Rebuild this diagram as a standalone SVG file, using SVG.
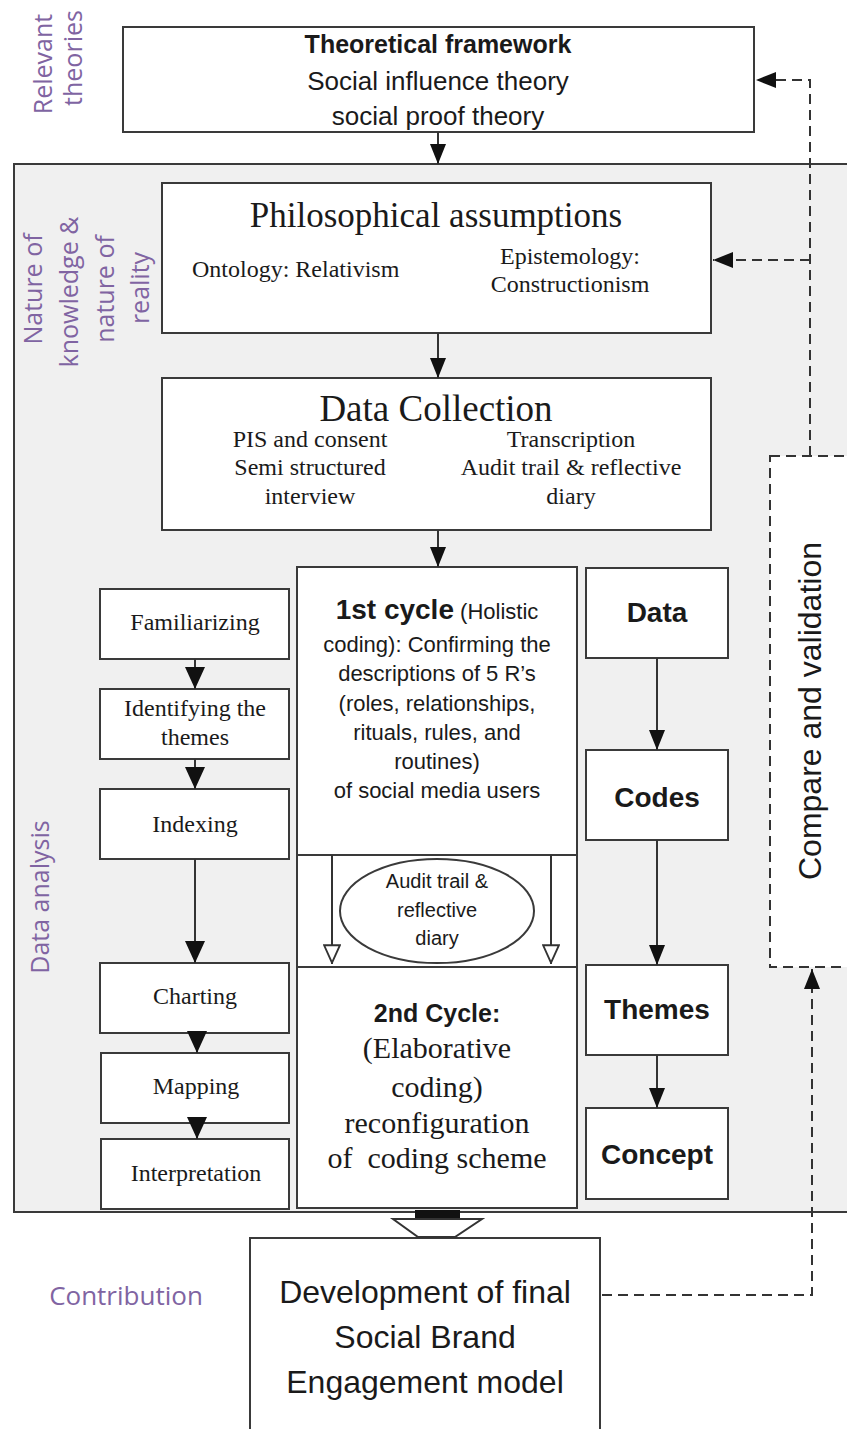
<svg xmlns="http://www.w3.org/2000/svg" width="847" height="1429" viewBox="0 0 847 1429">
<style>
.bg{fill:#fff}
.panel{fill:#f0f0f0;stroke:#3a3a3a;stroke-width:2}
.box{fill:#fff;stroke:#3a3a3a;stroke-width:2}
.dbox{fill:#fff;stroke:#333;stroke-width:2;stroke-dasharray:10 6}
.sans{font-family:"Liberation Sans",Arial,sans-serif;fill:#1a1a1a}
.serif{font-family:"Liberation Serif","Times New Roman",serif;fill:#1a1a1a}
.lab{font-family:"Open Sans","Liberation Sans",sans-serif;fill:#8064a2;font-size:25px}
.b{font-weight:bold}
.c{text-anchor:middle}
.line{stroke:#333;stroke-width:2;fill:none}
.dash{stroke:#333;stroke-width:2;fill:none;stroke-dasharray:10 6}
</style>
<defs>
<marker id="ah" viewBox="0 0 10 10" refX="10" refY="5" markerWidth="20" markerHeight="16" markerUnits="userSpaceOnUse" orient="auto" preserveAspectRatio="none"><path d="M0,0L10,5L0,10z" fill="#111"/></marker>
<marker id="ahb" viewBox="0 0 10 10" refX="10" refY="5" markerWidth="22" markerHeight="20" markerUnits="userSpaceOnUse" orient="auto" preserveAspectRatio="none"><path d="M0,0L10,5L0,10z" fill="#111"/></marker>
<marker id="hol" viewBox="0 0 10 10" refX="10" refY="5" markerWidth="20" markerHeight="18" markerUnits="userSpaceOnUse" orient="auto" preserveAspectRatio="none"><path d="M0.6,0.6L9.4,5L0.6,9.4z" fill="#fff" stroke="#333" stroke-width="1"/></marker>
</defs>
<rect class="bg" x="0" y="0" width="847" height="1429"/>

<g id="panel"><rect class="panel" x="14" y="164" width="850" height="1048"/></g>

<g id="labels">
<text class="lab c" transform="translate(52,64) rotate(-90)">Relevant</text>
<text class="lab c" transform="translate(82,58) rotate(-90)">theories</text>
<text class="lab c" transform="translate(42,289) rotate(-90)">Nature of</text>
<text class="lab c" transform="translate(78,292) rotate(-90)">knowledge &amp;</text>
<text class="lab c" transform="translate(114,289) rotate(-90)">nature of</text>
<text class="lab c" transform="translate(149,288) rotate(-90)">reality</text>
<text class="lab c" transform="translate(49,897) rotate(-90)">Data analysis</text>
<text class="lab c" x="126" y="1305" style="font-size:26px">Contribution</text>
</g>

<g id="theory">
<rect class="box" x="123" y="27" width="631" height="105"/>
<text class="sans b c" x="438" y="53" font-size="25">Theoretical framework</text>
<text class="sans c" x="438" y="90" font-size="26">Social influence theory</text>
<text class="sans c" x="438" y="125" font-size="26">social proof theory</text>
</g>

<g id="philosophy">
<rect class="box" x="162" y="183" width="549" height="150"/>
<text class="serif c" x="436" y="227" font-size="35">Philosophical assumptions</text>
<text class="serif" x="192" y="277" font-size="24">Ontology: Relativism</text>
<text class="serif c" x="570" y="264" font-size="24">Epistemology:</text>
<text class="serif c" x="570" y="292" font-size="24">Constructionism</text>
</g>

<g id="collection">
<rect class="box" x="162" y="378" width="549" height="152"/>
<text class="serif c" x="436" y="421" font-size="37">Data Collection</text>
<text class="serif c" x="310" y="447" font-size="24">PIS and consent</text>
<text class="serif c" x="310" y="475" font-size="24">Semi structured</text>
<text class="serif c" x="310" y="504" font-size="24">interview</text>
<text class="serif c" x="571" y="447" font-size="24">Transcription</text>
<text class="serif c" x="571" y="475" font-size="24">Audit trail &amp; reflective</text>
<text class="serif c" x="571" y="504" font-size="24">diary</text>
</g>

<g id="familiarizing"><rect class="box" x="100" y="589" width="189" height="70"/><text class="serif c" x="195" y="630" font-size="24">Familiarizing</text></g>
<g id="identifying"><rect class="box" x="100" y="689" width="189" height="70"/><text class="serif c" x="195" y="716" font-size="24">Identifying the</text><text class="serif c" x="195" y="745" font-size="24">themes</text></g>
<g id="indexing"><rect class="box" x="100" y="789" width="189" height="70"/><text class="serif c" x="195" y="832" font-size="24">Indexing</text></g>
<g id="charting"><rect class="box" x="100" y="963" width="189" height="70"/><text class="serif c" x="195" y="1004" font-size="24">Charting</text></g>
<g id="mapping"><rect class="box" x="101" y="1053" width="188" height="70"/><text class="serif c" x="196" y="1094" font-size="24">Mapping</text></g>
<g id="interpretation"><rect class="box" x="101" y="1139" width="188" height="70"/><text class="serif c" x="196" y="1181" font-size="24">Interpretation</text></g>

<g id="frame"><rect class="box" x="297" y="567" width="280" height="641"/></g>
<g id="cycle1">
<rect class="box" x="297" y="567" width="280" height="288"/>
<text class="sans c" x="437" y="619" font-size="22"><tspan class="b" font-size="28">1st cycle</tspan> (Holistic</text>
<text class="sans c" x="437" y="652" font-size="22">coding): Confirming the</text>
<text class="sans c" x="437" y="681" font-size="22">descriptions of 5 R’s</text>
<text class="sans c" x="437" y="711" font-size="22">(roles, relationships,</text>
<text class="sans c" x="437" y="740" font-size="22">rituals, rules, and</text>
<text class="sans c" x="437" y="769" font-size="22">routines)</text>
<text class="sans c" x="437" y="798" font-size="22">of social media users</text>
</g>
<g id="audit">
<ellipse class="box" cx="437" cy="911" rx="97" ry="52"/>
<text class="sans c" x="437" y="888" font-size="20" fill="#333">Audit trail &amp;</text>
<text class="sans c" x="437" y="917" font-size="20" fill="#333">reflective</text>
<text class="sans c" x="437" y="945" font-size="20" fill="#333">diary</text>
</g>
<g id="cycle2">
<rect class="box" x="297" y="967" width="280" height="241"/>
<text class="sans b c" x="437" y="1022" font-size="25">2nd Cycle:</text>
<text class="serif c" x="437" y="1058" font-size="30">(Elaborative</text>
<text class="serif c" x="437" y="1097" font-size="30">coding)</text>
<text class="serif c" x="437" y="1133" font-size="30">reconfiguration</text>
<text class="serif c" x="437" y="1168" font-size="30" xml:space="preserve">of  coding scheme</text>
</g>

<g id="data"><rect class="box" x="586" y="568" width="142" height="90"/><text class="sans b c" x="657" y="622" font-size="28">Data</text></g>
<g id="codes"><rect class="box" x="586" y="750" width="142" height="90"/><text class="sans b c" x="657" y="807" font-size="28">Codes</text></g>
<g id="themes"><rect class="box" x="586" y="965" width="142" height="90"/><text class="sans b c" x="657" y="1019" font-size="28">Themes</text></g>
<g id="concept"><rect class="box" x="586" y="1108" width="142" height="91"/><text class="sans b c" x="657" y="1164" font-size="28">Concept</text></g>

<g id="compare">
<rect class="dbox" x="770" y="456" width="100" height="511"/>
<text class="sans c" transform="translate(821,711) rotate(-90)" font-size="32" fill="#222">Compare and validation</text>
</g>

<g id="contribution">
<rect class="box" x="250" y="1238" width="350" height="250"/>
<text class="sans c" x="425" y="1303" font-size="32">Development of final</text>
<text class="sans c" x="425" y="1348" font-size="32">Social Brand</text>
<text class="sans c" x="425" y="1393" font-size="32">Engagement model</text>
</g>

<g id="connectors">
<line class="line" x1="438" y1="132" x2="438" y2="164" marker-end="url(#ah)"/>
<line class="line" x1="438" y1="333" x2="438" y2="378" marker-end="url(#ah)"/>
<line class="line" x1="438" y1="530" x2="438" y2="567" marker-end="url(#ah)"/>
<line class="line" x1="195" y1="659" x2="195" y2="689" marker-end="url(#ahb)"/>
<line class="line" x1="195" y1="759" x2="195" y2="789" marker-end="url(#ahb)"/>
<line class="line" x1="195" y1="859" x2="195" y2="963" marker-end="url(#ahb)"/>
<line class="line" x1="197" y1="1033" x2="197" y2="1053" marker-end="url(#ahb)"/>
<line class="line" x1="197" y1="1117" x2="197" y2="1139" marker-end="url(#ahb)"/>
<line class="line" x1="657" y1="658" x2="657" y2="750" marker-end="url(#ah)"/>
<line class="line" x1="657" y1="840" x2="657" y2="965" marker-end="url(#ah)"/>
<line class="line" x1="657" y1="1055" x2="657" y2="1108" marker-end="url(#ah)"/>
<line class="line" x1="332" y1="855" x2="332" y2="964" marker-end="url(#hol)"/>
<line class="line" x1="551" y1="855" x2="551" y2="964" marker-end="url(#hol)"/>
<rect x="415" y="1210" width="45" height="8" fill="#111"/>
<polygon points="393,1219 482,1219 455,1237 418,1237" fill="#fff" stroke="#333" stroke-width="2"/>
<path class="dash" d="M810,456 L810,80 L756,80" marker-end="url(#ah)"/>
<path class="dash" d="M810,260 L713,260" marker-end="url(#ah)"/>
<path class="dash" d="M602,1295 L812,1295 L812,969" marker-end="url(#ah)"/>
</g>
</svg>
